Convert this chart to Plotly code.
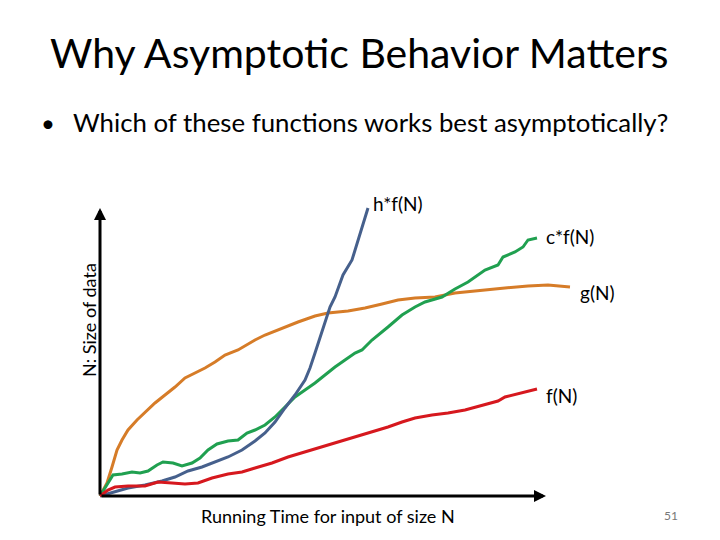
import plotly.graph_objects as go

# Curve data in "pixel-like" units measured from the origin of the drawn axes
g_x = [0, 7, 12, 17, 22, 28, 37, 45, 55, 65, 75, 85, 95, 105, 115, 125, 138, 155, 165, 182, 198, 215, 228, 248, 265, 282, 298, 315, 335, 355, 382, 405, 428, 448, 470]
g_y = [0, 13, 29, 46, 56, 66, 76, 84, 93, 101, 109, 118, 123, 128, 134, 141, 146, 156, 161, 168, 174, 180, 183, 185, 188, 192, 196, 198, 199, 203, 206, 208, 210, 211, 209]

c_x = [0, 8, 13, 22, 32, 40, 48, 57, 63, 73, 82, 92, 100, 108, 117, 128, 138, 147, 155, 165, 175, 185, 195, 205, 215, 225, 235, 245, 255, 262, 272, 288, 302, 315, 325, 342, 355, 368, 385, 398, 403, 415, 423, 428, 437]
c_y = [0, 13, 21, 22, 24, 23, 25, 31, 34, 33, 30, 33, 38, 46, 52, 55, 56, 63, 66, 71, 79, 89, 99, 106, 113, 121, 129, 136, 143, 146, 156, 169, 181, 189, 194, 199, 207, 214, 226, 231, 239, 244, 249, 256, 258]

h_x = [0, 15, 28, 45, 62, 75, 88, 102, 115, 128, 142, 155, 165, 175, 185, 195, 205, 210, 215, 217, 223, 230, 235, 243, 252, 257, 262, 265, 268]
h_y = [0, 4, 8, 11, 15, 19, 25, 29, 34, 39, 46, 55, 63, 74, 88, 101, 116, 128, 143, 149, 169, 189, 199, 221, 236, 253, 269, 279, 288]

f_x = [0, 8, 15, 28, 45, 58, 72, 85, 98, 112, 128, 142, 155, 172, 188, 205, 222, 238, 255, 272, 288, 302, 315, 332, 348, 365, 382, 398, 405, 422, 437]
f_y = [0, 6, 9, 10, 10, 14, 13, 12, 13, 18, 22, 24, 28, 33, 39, 44, 49, 54, 59, 64, 69, 74, 78, 81, 83, 86, 91, 95, 99, 103, 107]

labels = ["h*f(N)", "c*f(N)", "g(N)", "f(N)"]
title = "Why Asymptotic Behavior Matters"
bullet_text = "Which of these functions works best asymptotically?"
x_title = "Running Time for input of size N"
y_title = "N: Size of data"
page_no = "51"

FONT = "Lato, Carlito, Calibri, sans-serif"

fig = go.Figure()
series = [
    (g_x, g_y, "rgb(214,124,40)"),
    (c_x, c_y, "rgb(32,160,80)"),
    (h_x, h_y, "rgb(70,96,140)"),
    (f_x, f_y, "rgb(214,24,30)"),
]
for xs, ys, col in series:
    fig.add_trace(go.Scatter(x=xs, y=ys, mode="lines",
                             line=dict(color=col, width=3), hoverinfo="skip"))

ann = []
# axes arrows
ann.append(dict(x=446, y=0, ax=0, ay=0, xref="x", yref="y", axref="x", ayref="y",
                text="", showarrow=True, arrowhead=2, arrowsize=0.8, arrowwidth=3, arrowcolor="black"))
ann.append(dict(x=0, y=288, ax=0, ay=0, xref="x", yref="y", axref="x", ayref="y",
                text="", showarrow=True, arrowhead=2, arrowsize=0.8, arrowwidth=3, arrowcolor="black"))

lab_pos = [(271, 293), (444, 260), (478, 204), (444, 101)]
for t, (lx, ly) in zip(labels, lab_pos):
    ann.append(dict(x=lx, y=ly, xref="x", yref="y", text=t, showarrow=False,
                    xanchor="left", yanchor="middle",
                    font=dict(family=FONT, size=19, color="black")))

ann.append(dict(x=259, y=444, xref="x", yref="y", text=title, showarrow=False,
                xanchor="center", yanchor="middle",
                font=dict(family=FONT, size=41, color="black")))
ann.append(dict(x=-52, y=374, xref="x", yref="y", text="•", showarrow=False,
                xanchor="center", yanchor="middle", font=dict(family=FONT, size=24, color="black")))
ann.append(dict(x=-29, y=374, xref="x", yref="y", text=bullet_text, showarrow=False,
                xanchor="left", yanchor="middle", font=dict(family=FONT, size=25.8, color="black")))
ann.append(dict(x=228, y=-20, xref="x", yref="y", text=x_title, showarrow=False,
                xanchor="center", yanchor="middle", font=dict(family=FONT, size=18, color="black")))
ann.append(dict(x=-11, y=176, xref="x", yref="y", text=y_title, showarrow=False, textangle=-90,
                xanchor="center", yanchor="middle", font=dict(family=FONT, size=18, color="black")))
ann.append(dict(x=571, y=-19, xref="x", yref="y", text=page_no, showarrow=False,
                xanchor="center", yanchor="middle", font=dict(family=FONT, size=12, color="rgb(120,120,120)")))

fig.update_layout(
    width=720, height=540,
    margin=dict(l=0, r=0, t=0, b=0),
    paper_bgcolor="white", plot_bgcolor="white",
    showlegend=False,
    xaxis=dict(range=[-92, 628], visible=False, fixedrange=True),
    yaxis=dict(range=[-52, 488], visible=False, fixedrange=True),
    annotations=ann,
)

fig.write_html("out.html")
